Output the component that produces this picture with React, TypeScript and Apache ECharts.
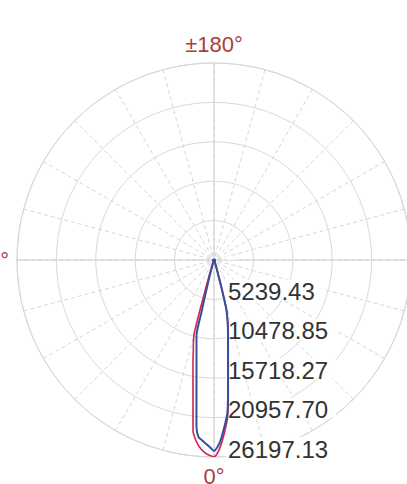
import React, { useEffect, useRef } from 'react';
import * as echarts from 'echarts';

// Angles in degrees: positive = left half (towards 90°), negative = right half
const angles = [
  -180, -150, -120, -90, -60, -45, -30, -25, -20, -18, -16, -15, -14.5, -14, -13, -12, -11, -10,
  -9, -8, -7, -6, -5, -4, -3, -2, -1, 0, 1, 2, 3, 4, 5, 6, 7, 8, 9, 10, 11, 12, 13, 13.5, 14,
  14.5, 15, 15.5, 16, 17, 18, 20, 25, 30, 45, 60, 90, 120, 150, 180,
];

// C0-180 plane (red)
const redValues = [
  100, 100, 120, 150, 180, 200, 250, 300, 450, 900, 2200, 4300, 5700, 7000, 8000, 9000, 9950, 10950,
  12150, 13700, 15600, 18200, 20900, 22300, 23600, 24800, 25700, 26197, 26050, 25850, 25550, 25150, 24600, 23900, 22920, 20070, 17860, 16100, 14640, 13430, 12200, 11800, 11300,
  10800, 10300, 8000, 5000, 2500, 1200, 500, 300, 250, 200, 180, 150, 120, 100, 100,
];

// C90-270 plane (blue)
const blueValues = [
  100, 100, 120, 150, 180, 200, 250, 300, 400, 800, 2000, 4100, 5500, 6850, 7800, 8800, 9750, 10730,
  11900, 13390, 15280, 17820, 20400, 21700, 22900, 24100, 24900, 25400, 25000, 24630, 24300, 23950, 23650, 22300, 19120, 16740, 14880, 13400, 12200, 11190, 10350, 7000, 5000,
  3500, 2500, 1800, 1200, 800, 600, 400, 300, 250, 200, 180, 150, 120, 100, 100,
];

const radiusMax = 26197.13;
const radiusTickLabels = ['5239.43', '10478.85', '15718.27', '20957.70', '26197.13'];
const angleTickValues = [0, 90, 180, 270];
const angleTickLabels = ['0°', '90°', '±180°', '90°'];

export default function App() {
  const ref = useRef<HTMLDivElement>(null);
  useEffect(() => {
    if (!ref.current) return;
    const chart = echarts.init(ref.current, null, { renderer: 'svg' });
    const step = radiusMax / radiusTickLabels.length;
    const toPolar = (vals: number[]) =>
      angles.map((a, i) => [vals[i], a < 0 ? a + 360 : a]);
    chart.setOption({
      animation: false,
      textStyle: { fontFamily: '"Liberation Sans", Arial, sans-serif' },
      polar: [
        { center: [214, 260], radius: 197 },
        { center: [214, 260], radius: 197 },
      ],
      angleAxis: [
        {
          polarIndex: 0,
          type: 'value',
          min: 0,
          max: 360,
          interval: 15,
          startAngle: -90,
          clockwise: true,
          axisLine: { show: true, lineStyle: { color: '#d2d2d2', width: 1 } },
          axisTick: { show: false },
          axisLabel: {
            show: true,
            margin: 8,
            fontSize: 22,
            color: '#ad3c3c',
            formatter: (v: number) => {
              const i = angleTickValues.indexOf(Math.round(v));
              return i >= 0 ? angleTickLabels[i] : '';
            },
          },
          splitLine: { show: true, lineStyle: { color: '#d6d6d6', type: [4, 3], width: 1 } },
        },
        {
          polarIndex: 1,
          type: 'value',
          min: 0,
          max: 360,
          interval: 90,
          startAngle: -90,
          clockwise: true,
          axisLine: { show: false },
          axisTick: { show: false },
          axisLabel: { show: false },
          splitLine: { show: true, lineStyle: { color: '#cccccc', width: 1 } },
        },
      ],
      radiusAxis: [
        {
          polarIndex: 0,
          type: 'value',
          min: 0,
          max: radiusMax,
          interval: step,
          z: 1,
          axisLine: { show: false },
          axisTick: { show: false },
          axisLabel: {
            show: true,
            margin: 12,
            fontSize: 24,
            lineHeight: 16,
            color: '#333333',
            align: 'left',
            verticalAlign: 'bottom',
            padding: [4, 8, 0, 2],
            backgroundColor: 'rgba(255,255,255,0.9)',
            formatter: (v: number) => {
              const i = Math.round(v / step);
              return i > 0 ? radiusTickLabels[i - 1] ?? '' : '';
            },
          },
          splitLine: { show: true, lineStyle: { color: '#d9d9d9', width: 1 } },
        },
        {
          polarIndex: 1,
          type: 'value',
          min: 0,
          max: radiusMax,
          axisLine: { show: false },
          axisTick: { show: false },
          axisLabel: { show: false },
          splitLine: { show: false },
        },
      ],
      series: [
        {
          name: 'C0-180',
          type: 'line',
          coordinateSystem: 'polar',
          polarIndex: 0,
          data: toPolar(redValues),
          showSymbol: false,
          smooth: 0.2,
          lineStyle: { color: '#d4244c', width: 1.6 },
          z: 2,
        },
        {
          name: 'C90-270',
          type: 'line',
          coordinateSystem: 'polar',
          polarIndex: 0,
          data: toPolar(blueValues),
          showSymbol: false,
          smooth: 0.2,
          lineStyle: { color: '#34509e', width: 2 },
          z: 3,
        },
      ],
    });
    return () => chart.dispose();
  }, []);
  return (
    <div
      ref={ref}
      style={{ position: 'absolute', left: 0, top: 0, width: 407, height: 484, background: '#fff' }}
    />
  );
}
